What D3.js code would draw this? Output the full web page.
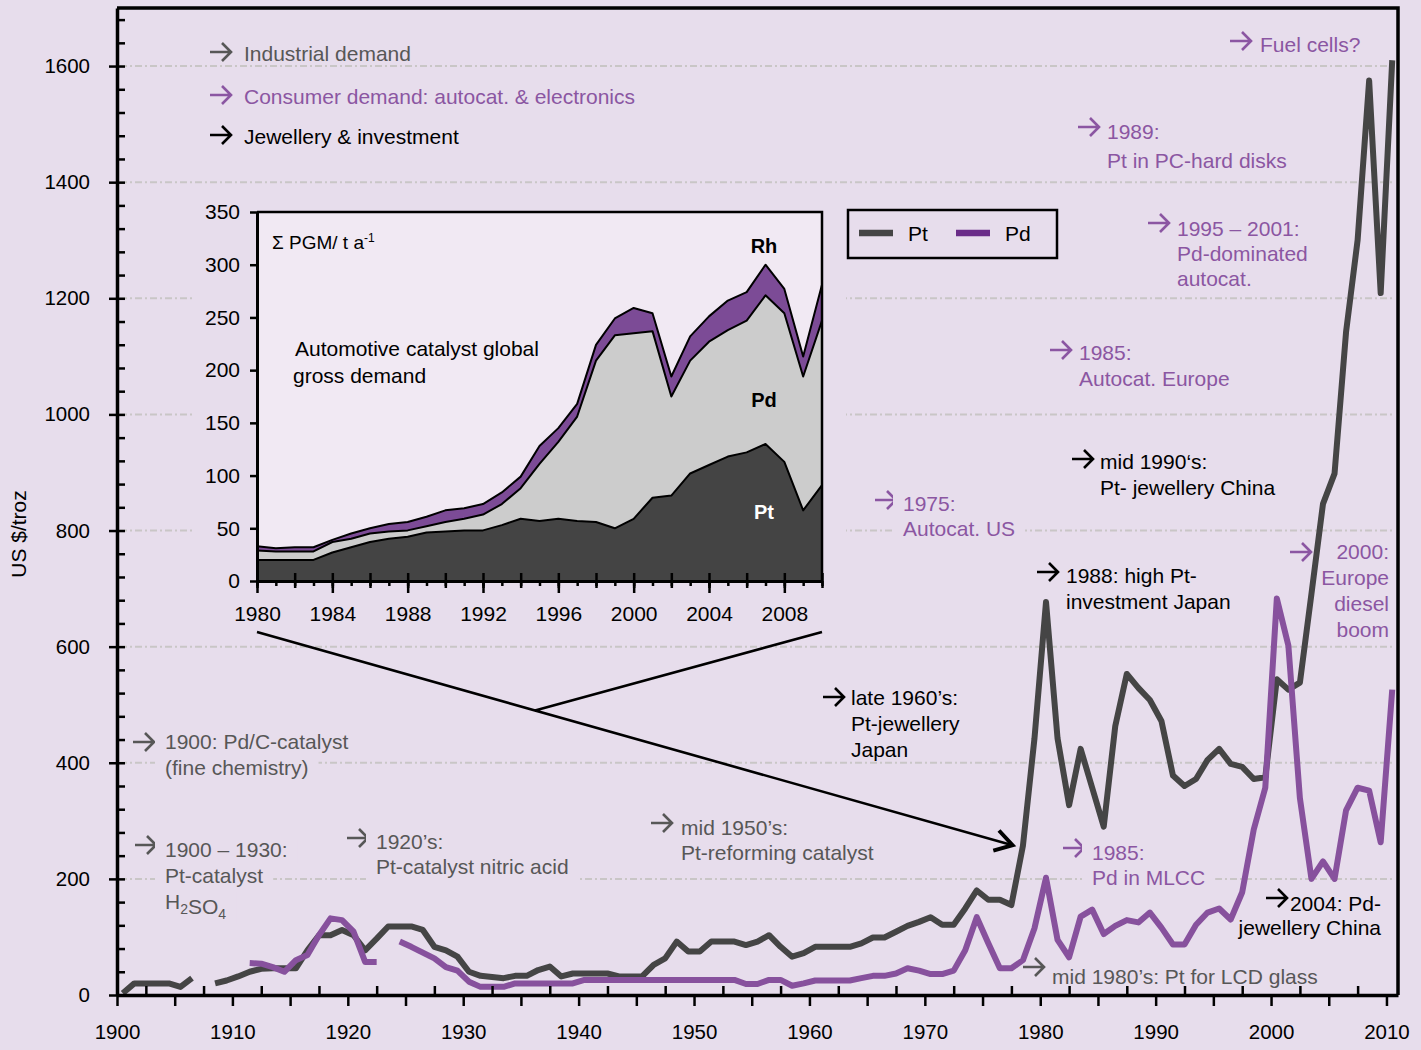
<!DOCTYPE html>
<html>
<head>
<meta charset="utf-8">
<script src="https://cdnjs.cloudflare.com/ajax/libs/d3/7.8.5/d3.min.js"></script>
<style>
  body { margin: 0; background: #e7ddec; }
  svg { display: block; font-family: "Liberation Sans", Arial, sans-serif; }
</style>
</head>
<body>
<div id="chart"></div>
<script>
// ---- data ---------------------------------------------------------------
const years = d3.range(1900, 2011);

// annual average price, US $/troz
const ptPrice = [
  3, 20, 20, 20, 20, 14, 29, null, 20, 25,          // 1900s
  32, 40, 45, 46, 46, 46, 77, 103, 103, 112,        // 1910s
  103, 77, 97, 118, 118, 118, 112, 83, 77, 66,      // 1920s
  40, 33, 31, 29, 33, 33, 43, 49, 32, 37,           // 1930s
  37, 37, 37, 32, 32, 32, 52, 63, 92, 75,           // 1940s
  75, 92, 92, 92, 86, 92, 103, 83, 66, 72,          // 1950s
  83, 83, 83, 83, 89, 99, 99, 109, 119, 126,        // 1960s
  134, 121, 121, 149, 180, 164, 164, 155, 257, 442, // 1970s
  677, 442, 327, 424, 357, 290, 463, 553, 529, 508, // 1980s
  472, 378, 360, 372, 405, 424, 398, 393, 372, 375, // 1990s
  544, 526, 538, 691, 846, 898, 1142, 1300, 1575, 1209, // 2000s
  1610
];
const pdPrice = [
  null, null, null, null, null, null, null, null, null, null,
  null, 55, 54, 48, 40, 60, 69, 103, 132, 129,
  109, 57, 57, null, 92, 83, 73, 63, 48, 42,
  23, 14, 14, 14, 20, 20, 20, 20, 20, 20,
  26, 26, 26, 26, 26, 26, 26, 26, 26, 26,
  26, 26, 26, 26, 19, 19, 26, 26, 16, 20,
  25, 25, 25, 25, 29, 33, 33, 37, 46, 42,
  36, 36, 42, 77, 134, 89, 46, 46, 60, 115,
  202, 95, 65, 135, 147, 105, 119, 129, 125, 142,
  116, 87, 87, 121, 142, 149, 130, 177, 285, 357,
  683, 602, 339, 200, 230, 200, 318, 357, 352, 263,
  526
];

// inset: automotive catalyst gross demand, t per year
const insetYears = d3.range(1980, 2011);
const insetPt = [20, 20, 20, 20, 27, 32, 37, 40, 42, 46, 47, 48, 48, 53, 59, 57, 59, 57, 56, 50,
                 59, 79, 81, 102, 110, 118, 122, 130, 113, 67, 91];
const insetPd = [9, 8, 8, 8, 10, 8, 8, 7, 6, 6, 9, 11, 15, 20, 29, 54, 73, 99, 153, 183,
                 176, 158, 94, 107, 117, 120, 125, 141, 141, 127, 156];
const insetRh = [4, 3, 4, 4, 2, 5, 5, 7, 8, 9, 11, 10, 10, 11, 11, 17, 13, 12, 15, 16,
                 24, 17, 19, 23, 24, 28, 27, 29, 23, 19, 34];

const priceTicks = [0, 200, 400, 600, 800, 1000, 1200, 1400, 1600];
const decadeTicks = [1900, 1910, 1920, 1930, 1940, 1950, 1960, 1970, 1980, 1990, 2000, 2010];
const insetTicks = [0, 50, 100, 150, 200, 250, 300, 350];
const insetYearTicks = [1980, 1984, 1988, 1992, 1996, 2000, 2004, 2008];

// ---- styles -------------------------------------------------------------
const BG = "#e7ddec";
const GRAY = "#575757";
const PURPLE = "#8b56a2";
const PT_COLOR = "#454545";
const PD_COLOR = "#87519d";
const FONT = '"Liberation Sans", Arial, sans-serif';

const W = 1421, H = 1050;
const svg = d3.select("#chart").append("svg").attr("width", W).attr("height", H);
svg.append("rect").attr("width", W).attr("height", H).attr("fill", BG);

const x = d3.scaleLinear().domain([1900, 2011]).range([117, 1398]);
const y = d3.scaleLinear().domain([0, 1700]).range([995, 8]);

// gridlines
svg.append("g").selectAll("line")
  .data(priceTicks.filter(d => d > 0))
  .join("line")
  .attr("x1", x(1900) + 3).attr("x2", x(2011) - 3)
  .attr("y1", d => y(d)).attr("y2", d => y(d))
  .attr("stroke", "#c9c6c6").attr("stroke-width", 2)
  .attr("stroke-dasharray", "7,3,2,3");

// ---- inset ----------------------------------------------------------------
const ix = d3.scaleLinear().domain([1980, 2010]).range([257, 822]);
const iy = d3.scaleLinear().domain([0, 350]).range([581, 212]);

const inset = svg.append("g");
inset.append("rect")
  .attr("x", 192).attr("y", 196).attr("width", 654).attr("height", 438)
  .attr("fill", BG);
inset.append("rect")
  .attr("x", ix(1980)).attr("y", iy(350))
  .attr("width", ix(2010) - ix(1980)).attr("height", iy(0) - iy(350))
  .attr("fill", "#f1e9f3");

const rows = insetYears.map((yr, i) => ({ year: yr, pt: insetPt[i], pd: insetPd[i], rh: insetRh[i] }));
const layers = d3.stack().keys(["pt", "pd", "rh"])(rows);
const layerFill = ["#444444", "#cccccc", "#7c4b96"];

inset.selectAll("path.layer")
  .data(layers)
  .join("path")
  .attr("class", "layer")
  .attr("d", d3.area().x(d => ix(d.data.year)).y0(d => iy(d[0])).y1(d => iy(d[1])))
  .attr("fill", (d, i) => layerFill[i]);

inset.selectAll("path.edge")
  .data(layers)
  .join("path")
  .attr("class", "edge")
  .attr("d", d3.line().x(d => ix(d.data.year)).y(d => iy(d[1])))
  .attr("fill", "none")
  .attr("stroke", "#000")
  .attr("stroke-width", 2)
  .attr("stroke-linejoin", "round");

// inset frame (top, right)
inset.append("path")
  .attr("d", `M${ix(1980)},${iy(350)}H${ix(2010)}V${iy(0)}`)
  .attr("fill", "none").attr("stroke", "#000").attr("stroke-width", 2.5);

function styleAxis(g, size) {
  g.attr("font-size", size).attr("font-family", FONT);
  g.selectAll(".tick line").attr("stroke", "#000").attr("stroke-width", 2.5);
  g.selectAll(".tick text").attr("fill", "#000");
  g.select(".domain").attr("stroke", "#000").attr("stroke-width", 3);
}

inset.append("g")
  .attr("transform", `translate(${ix(1980)},0)`)
  .call(d3.axisLeft(iy).tickValues(insetTicks).tickSize(7).tickPadding(10).tickSizeOuter(0))
  .call(g => styleAxis(g, 21));

// yearly minor ticks, even-year ticks crossing the axis, 4-year labelled ticks
inset.append("g")
  .attr("transform", `translate(0,${iy(0)})`)
  .call(d3.axisBottom(ix).tickValues(insetYears).tickSize(5).tickFormat("").tickSizeOuter(0))
  .call(g => styleAxis(g, 21));
inset.append("g")
  .attr("transform", `translate(0,${iy(0)})`)
  .call(d3.axisBottom(ix).tickValues(insetYears.filter(d => d % 2 === 0)).tickSize(7).tickFormat("").tickSizeOuter(0))
  .call(g => styleAxis(g, 21))
  .call(g => g.select(".domain").remove());
inset.append("g")
  .attr("transform", `translate(0,${iy(0)})`)
  .call(d3.axisTop(ix).tickValues(insetYears.filter(d => d % 2 === 0)).tickSize(8).tickFormat("").tickSizeOuter(0))
  .call(g => styleAxis(g, 21))
  .call(g => g.select(".domain").remove());
inset.append("g")
  .attr("transform", `translate(0,${iy(0)})`)
  .call(d3.axisBottom(ix).tickValues(insetYearTicks).tickSize(12).tickPadding(13).tickFormat(d3.format("d")).tickSizeOuter(0))
  .call(g => styleAxis(g, 21))
  .call(g => g.select(".domain").remove());

// inset texts
const unit = inset.append("text").attr("x", 272).attr("y", 249).attr("font-size", 19).attr("fill", "#000");
unit.append("tspan").text("Σ PGM/ t a");
unit.append("tspan").attr("dy", -7).attr("font-size", 12).text("-1");

inset.append("text").attr("x", 295).attr("y", 356).attr("font-size", 21).attr("fill", "#000")
  .text("Automotive catalyst global");
inset.append("text").attr("x", 293).attr("y", 383).attr("font-size", 21).attr("fill", "#000")
  .text("gross demand");

[["Rh", 253, "#000"], ["Pd", 407, "#000"], ["Pt", 519, "#fff"]].forEach(([t, yy, c]) => {
  inset.append("text").attr("x", 764).attr("y", yy).attr("text-anchor", "middle")
    .attr("font-size", 20).attr("font-weight", "bold").attr("fill", c).text(t);
});

// ---- annotations ------------------------------------------------------------
const H2SO4 = [{ t: "H" }, { t: "2", sub: true }, { t: "SO" }, { t: "4", sub: true }];
const notes = [
  { lines: ["Industrial demand"], color: GRAY, ax: 210, ay: 52, tx: 244, y0: 61 },
  { lines: ["Consumer demand: autocat. & electronics"], color: PURPLE, ax: 210, ay: 95, tx: 244, y0: 104 },
  { lines: ["Jewellery & investment"], color: "#000", ax: 210, ay: 135, tx: 244, y0: 144 },
  { lines: ["Fuel cells?"], color: PURPLE, ax: 1230, ay: 41, tx: 1260, y0: 52 },
  { lines: ["1989:", "Pt in PC-hard disks"], color: PURPLE, ax: 1078, ay: 127, tx: 1107, y0: 139, dy: 29 },
  { lines: ["1995 – 2001:", "Pd-dominated", "autocat."], color: PURPLE, ax: 1148, ay: 223, tx: 1177, y0: 236, dy: 25 },
  { lines: ["1985:", "Autocat. Europe"], color: PURPLE, ax: 1050, ay: 350, tx: 1079, y0: 360, dy: 26 },
  { lines: ["mid 1990‘s:", "Pt- jewellery China"], color: "#000", ax: 1072, ay: 459, tx: 1100, y0: 469, dy: 26 },
  { lines: ["1975:", "Autocat. US"], color: PURPLE, ax: 875, ay: 500, tx: 903, y0: 511, dy: 25, bg: true },
  { lines: ["2000:", "Europe", "diesel", "boom"], color: PURPLE, ax: 1290, ay: 552, tx: 1389, y0: 559, dy: 26, anchor: "end" },
  { lines: ["1988: high Pt-", "investment Japan"], color: "#000", ax: 1037, ay: 572, tx: 1066, y0: 583, dy: 26 },
  { lines: ["late 1960’s:", "Pt-jewellery", "Japan"], color: "#000", ax: 823, ay: 697, tx: 851, y0: 705, dy: 26 },
  { lines: ["1900: Pd/C-catalyst", "(fine chemistry)"], color: GRAY, ax: 133, ay: 742, tx: 165, y0: 749, dy: 26, bg: true },
  { lines: ["mid 1950’s:", "Pt-reforming catalyst"], color: GRAY, ax: 651, ay: 823, tx: 681, y0: 835, dy: 25 },
  { lines: ["1920’s:", "Pt-catalyst nitric acid"], color: GRAY, ax: 347, ay: 838, tx: 376, y0: 849, dy: 25, bg: true },
  { lines: ["1900 – 1930:", "Pt-catalyst", H2SO4], color: GRAY, ax: 135, ay: 845, tx: 165, y0: 857, dy: 26, bg: true },
  { lines: ["1985:", "Pd in MLCC"], color: PURPLE, ax: 1063, ay: 848, tx: 1092, y0: 860, dy: 25, bg: true },
  { lines: ["2004: Pd-", "jewellery China"], color: "#000", ax: 1266, ay: 898, tx: 1381, y0: 911, dy: 24, anchor: "end" },
  { lines: ["mid 1980’s: Pt for LCD glass"], color: GRAY, ax: 1023, ay: 967, tx: 1052, y0: 984 }
];

function smallArrow(g, x0, y0, color) {
  g.append("path")
    .attr("d", `M${x0},${y0}H${x0 + 21}M${x0 + 12},${y0 - 9}L${x0 + 21},${y0}L${x0 + 12},${y0 + 9}`)
    .attr("fill", "none").attr("stroke", color).attr("stroke-width", 2.6);
}

notes.forEach(n => {
  const g = svg.append("g");
  smallArrow(g, n.ax, n.ay, n.color);
  n.lines.forEach((line, i) => {
    const t = g.append("text")
      .attr("x", n.tx).attr("y", n.y0 + i * (n.dy || 0))
      .attr("fill", n.color).attr("font-size", 21)
      .attr("text-anchor", n.anchor || "start");
    if (Array.isArray(line)) {
      line.forEach(seg => {
        t.append("tspan")
          .attr("dy", seg.sub ? 5 : 0)
          .attr("font-size", seg.sub ? 14 : 21)
          .text(seg.t);
        if (seg.sub) t.append("tspan").attr("dy", -5).text("");
      });
    } else {
      t.text(line);
    }
    if (n.bg) {
      const b = t.node().getBBox();
      g.insert("rect", "text")
        .attr("x", b.x - 10).attr("y", b.y + 2)
        .attr("width", b.width + 20).attr("height", b.height)
        .attr("fill", BG);
    }
  });
});

// ---- price lines --------------------------------------------------------------
const priceLine = d3.line()
  .defined(d => d.v != null)
  .x(d => x(d.year + 0.5))
  .y(d => y(d.v));

[[ptPrice, PT_COLOR], [pdPrice, PD_COLOR]].forEach(([vals, color]) => {
  svg.append("path")
    .datum(years.map((yr, i) => ({ year: yr, v: vals[i] })))
    .attr("d", priceLine)
    .attr("fill", "none")
    .attr("stroke", color)
    .attr("stroke-width", 6)
    .attr("stroke-linejoin", "round");
});

// ---- main axes ----------------------------------------------------------------
svg.append("g")
  .attr("transform", `translate(${x(1900)},0)`)
  .call(d3.axisLeft(y).tickValues(priceTicks).tickSize(8).tickPadding(19).tickFormat(d3.format("d")).tickSizeOuter(0))
  .call(g => styleAxis(g, 20.5))
  .call(g => g.select(".domain").attr("stroke-width", 3.5));
svg.append("g")
  .attr("transform", `translate(${x(1900)},0)`)
  .call(d3.axisRight(y).tickValues(d3.range(0, 1700, 40)).tickSize(8).tickFormat("").tickSizeOuter(0))
  .call(g => styleAxis(g, 20.5))
  .call(g => g.select(".domain").remove());

svg.append("g")
  .attr("transform", `translate(0,${y(0)})`)
  .call(d3.axisBottom(x).tickValues(decadeTicks).tickSize(11).tickPadding(18).tickFormat(d3.format("d")).tickSizeOuter(0))
  .call(g => styleAxis(g, 20.5))
  .call(g => g.select(".domain").attr("stroke-width", 3.5));
svg.append("g")
  .attr("transform", `translate(0,${y(0)})`)
  .call(d3.axisBottom(x).tickValues(d3.range(1905, 2011, 10)).tickSize(11).tickFormat("").tickSizeOuter(0))
  .call(g => styleAxis(g, 20.5))
  .call(g => g.select(".domain").remove());
svg.append("g")
  .attr("transform", `translate(0,${y(0)})`)
  .call(d3.axisTop(x).tickValues(d3.range(1902.5, 2011, 5)).tickSize(9).tickFormat("").tickSizeOuter(0))
  .call(g => styleAxis(g, 20.5))
  .call(g => g.select(".domain").remove());

// frame top / right
svg.append("path")
  .attr("d", `M${x(1900)},${y(1700)}H${x(2011)}V${y(0)}`)
  .attr("fill", "none").attr("stroke", "#000").attr("stroke-width", 3.5);

svg.append("text")
  .attr("transform", `translate(26,534) rotate(-90)`)
  .attr("text-anchor", "middle")
  .attr("font-size", 21)
  .attr("fill", "#000")
  .text("US $/troz");

// ---- legend -------------------------------------------------------------------
const leg = svg.append("g");
leg.append("rect")
  .attr("x", 848).attr("y", 210).attr("width", 209).attr("height", 48)
  .attr("fill", "none").attr("stroke", "#000").attr("stroke-width", 2.5);
[["Pt", PT_COLOR, 859], ["Pd", "#6a2c88", 956]].forEach(([name, color, lx]) => {
  leg.append("line")
    .attr("x1", lx).attr("x2", lx + 34).attr("y1", 233).attr("y2", 233)
    .attr("stroke", color).attr("stroke-width", 6.5);
  leg.append("text")
    .attr("x", lx + 49).attr("y", 241)
    .attr("font-size", 21).attr("fill", "#000")
    .text(name);
});

// ---- zoom connector from inset to 1978 --------------------------------------
const tip = [x(1977.6), y(258)];
const from = [ix(1980), 632];
const jx = 535;
const jt = (jx - from[0]) / (tip[0] - from[0]);
const joint = [jx, from[1] + jt * (tip[1] - from[1])];
svg.append("path")
  .attr("d", `M${from[0]},${from[1]}L${tip[0]},${tip[1]}M${ix(2010)},632L${joint[0]},${joint[1]}`)
  .attr("fill", "none").attr("stroke", "#000").attr("stroke-width", 2.6);
const ang = Math.atan2(tip[1] - from[1], tip[0] - from[0]);
const arm = (da) => [tip[0] - 20 * Math.cos(ang + da), tip[1] - 20 * Math.sin(ang + da)];
const a1 = arm(0.55), a2 = arm(-0.55);
svg.append("path")
  .attr("d", `M${a1[0]},${a1[1]}L${tip[0]},${tip[1]}L${a2[0]},${a2[1]}`)
  .attr("fill", "none").attr("stroke", "#000").attr("stroke-width", 4);
</script>
</body>
</html>
